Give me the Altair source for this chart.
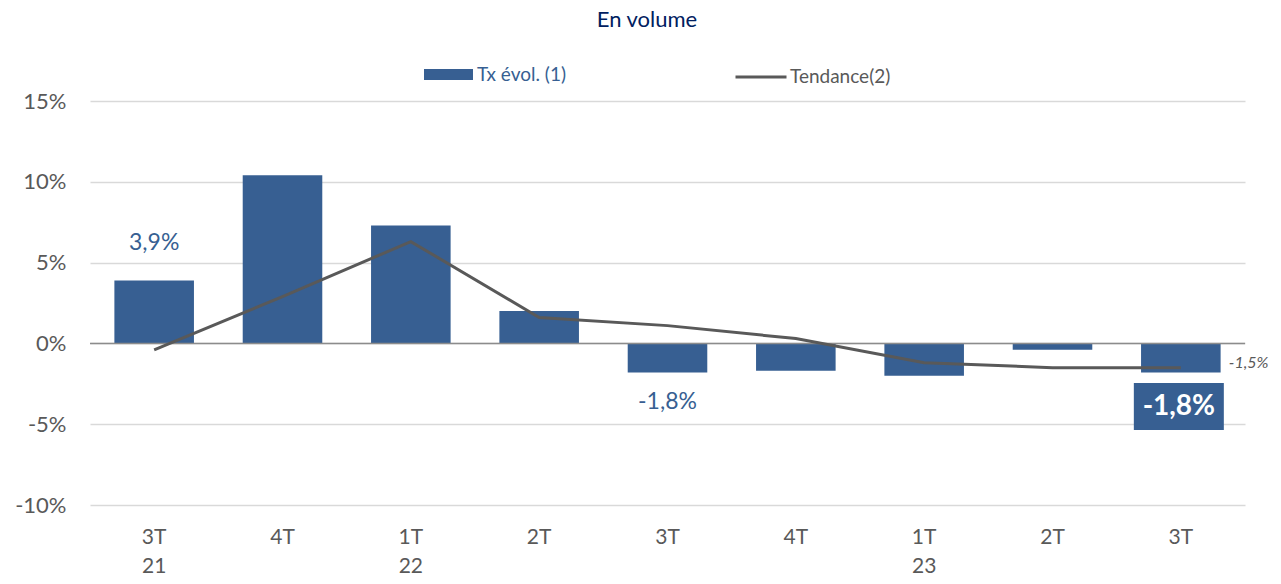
import json
import pandas as pd
import altair as alt

# ---- data ----
categories = ["3T 21", "4T 21", "1T 22", "2T 22", "3T 22", "4T 22", "1T 23", "2T 23", "3T 23"]
x_labels = [["3T", "21"], ["4T"], ["1T", "22"], ["2T"], ["3T"], ["4T"], ["1T", "23"], ["2T"], ["3T"]]
bar_values = [3.9, 10.4, 7.3, 2.0, -1.8, -1.7, -2.0, -0.4, -1.8]
trend_values = [-0.4, 2.9, 6.3, 1.6, 1.1, 0.3, -1.2, -1.5, -1.5]
y_ticks = [-10, -5, 0, 5, 10, 15]
title_text = "En volume"
bar_series = "Tx évol. (1)"
trend_series = "Tendance(2)"
plain_label_cats = ["3T 21", "3T 22"]
boxed_label_cat = "3T 23"
end_label_cat = "3T 23"

FONT = "Lato"
BLUE = "#375F92"
GRAY = "#595959"
NAVY = "#002060"


def fr(v):
    return f"{v:.1f}".replace(".", ",") + "%"


bars_df = pd.DataFrame({"cat": categories, "val": bar_values, "series": bar_series})
bars_df["txt"] = bars_df["val"].map(fr)
trend_df = pd.DataFrame({"cat": categories, "val": trend_values, "series": trend_series})
trend_df["txt"] = trend_df["val"].map(fr)

label_expr = f"{json.dumps(x_labels)}[indexof({json.dumps(categories)}, datum.value)]"

x_enc = alt.X(
    "cat:N",
    sort=categories,
    scale=alt.Scale(paddingInner=0.38, paddingOuter=0.19),
    axis=alt.Axis(
        title=None, labelExpr=label_expr, domain=False, ticks=False, grid=False,
        labelFont=FONT, labelFontSize=21, labelColor=GRAY, labelPadding=21,
        labelLineHeight=29, labelAngle=0,
    ),
)
y_scale = alt.Scale(domain=[-10, 15], nice=False)
y_enc = alt.Y(
    "val:Q",
    scale=y_scale,
    axis=alt.Axis(
        title=None, values=y_ticks, labelExpr="datum.value + '%'", domain=False,
        ticks=False, labelFont=FONT, labelFontSize=22, labelColor=GRAY,
        labelPadding=24, grid=True, gridColor="#D9D9D9", gridWidth=1.3,
    ),
)

bars = alt.Chart(bars_df).mark_bar().encode(
    x=x_enc,
    y=y_enc,
    y2=alt.datum(0),
    fill=alt.Fill(
        "series:N",
        scale=alt.Scale(domain=[bar_series], range=[BLUE]),
        legend=alt.Legend(
            orient="none", legendX=334, legendY=-51, title=None,
            symbolType="M-1,-0.22H1V0.22H-1Z", symbolSize=2400,
            symbolStrokeWidth=0, labelColor=BLUE, labelFont=FONT,
            labelFontSize=19, labelOffset=4,
        ),
    ),
)

zero_rule = alt.Chart(pd.DataFrame({"val": [0]})).mark_rule(
    color="#8C8C8C", strokeWidth=1.5
).encode(y=y_enc)

trend = alt.Chart(trend_df).mark_line(strokeWidth=3).encode(
    x=x_enc,
    y=y_enc,
    stroke=alt.Stroke(
        "series:N",
        scale=alt.Scale(domain=[trend_series], range=[GRAY]),
        legend=alt.Legend(
            orient="none", legendX=644, legendY=-51, title=None,
            symbolType="stroke", symbolSize=2601, symbolStrokeWidth=3,
            labelColor=GRAY, labelFont=FONT, labelFontSize=19, labelOffset=2,
        ),
    ),
)

plain_df = bars_df[bars_df["cat"].isin(plain_label_cats)]
labels_above = alt.Chart(plain_df[plain_df["val"] > 0]).mark_text(
    font=FONT, fontSize=23, color=BLUE, baseline="middle", dy=-37
).encode(x=x_enc, y=y_enc, text="txt:N")
labels_below = alt.Chart(plain_df[plain_df["val"] < 0]).mark_text(
    font=FONT, fontSize=23, color=BLUE, baseline="middle", dy=30
).encode(x=x_enc, y=y_enc, text="txt:N")

box_df = bars_df[bars_df["cat"] == boxed_label_cat]
box = alt.Chart(box_df).mark_bar(size=90, color=BLUE, yOffset=10.5, y2Offset=57.5, xOffset=-2).encode(
    x=x_enc, y=y_enc, y2=alt.Y2("val:Q")
)
box_text = alt.Chart(box_df).mark_text(
    font=FONT, fontSize=28, fontWeight="bold", color="white", baseline="middle", dy=35, dx=-2
).encode(x=x_enc, y=y_enc, text="txt:N")

end_df = trend_df[trend_df["cat"] == end_label_cat]
end_text = alt.Chart(end_df).mark_text(
    font=FONT, fontSize=16, fontStyle="italic", color=GRAY, align="left",
    baseline="middle", dx=48, dy=-5
).encode(x=x_enc, y=y_enc, text="txt:N")

title = alt.Chart(pd.DataFrame({"t": [title_text]})).mark_text(
    font=FONT, fontSize=22, color=NAVY, baseline="middle", align="center"
).encode(x=alt.value(557), y=alt.value(-81), text="t:N")

chart = alt.layer(
    bars, zero_rule, trend, labels_above, labels_below, box, box_text, end_text, title
).properties(
    width=1155,
    height=404,
    padding={"left": 82, "top": 93, "right": 28, "bottom": 71},
    autosize=alt.AutoSizeParams(type="none"),
    background="white",
).configure_view(stroke=None)

chart.save("out.html", embed_options={"renderer": "svg", "actions": False})
